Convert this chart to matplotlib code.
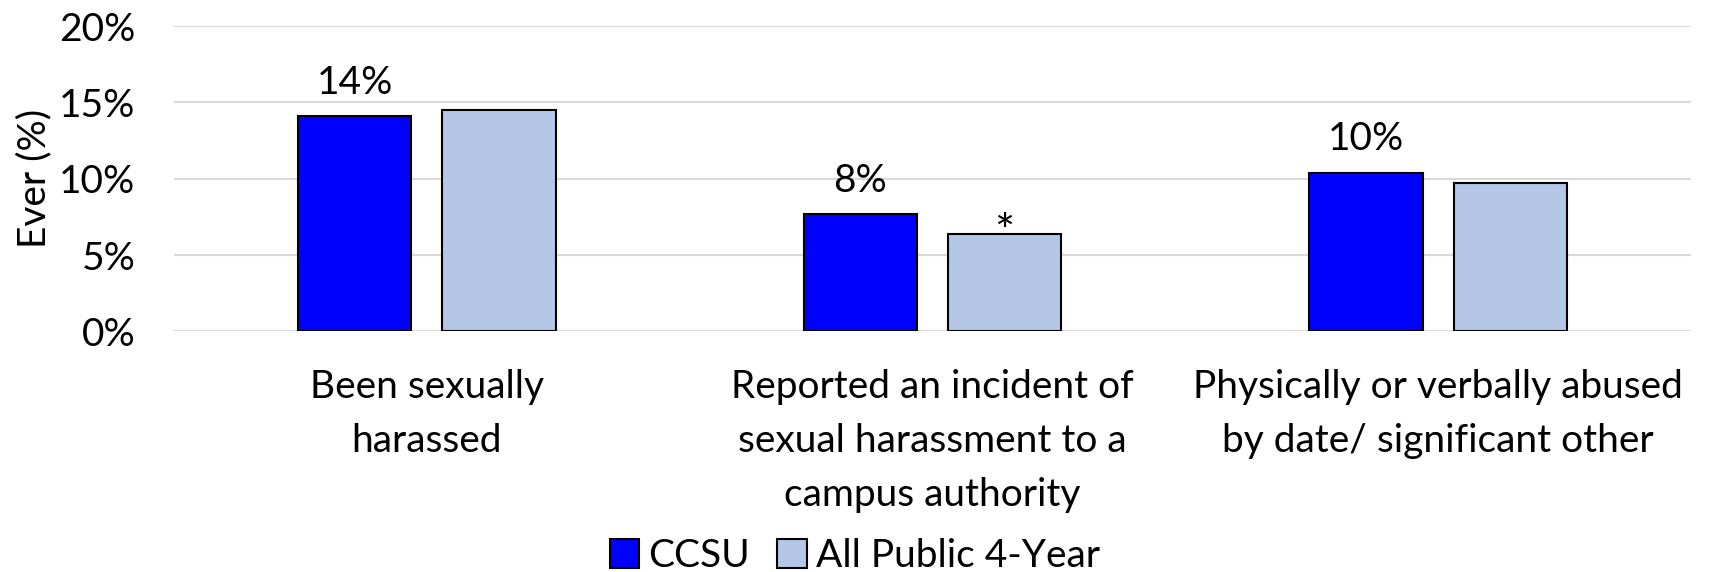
import matplotlib.pyplot as plt
import numpy as np

categories = ['Been sexually\nharassed',
              'Reported an incident of\nsexual harassment to a\ncampus authority',
              'Physically or verbally abused\nby date/ significant other']
ccsu = [14.1, 7.7, 10.4]
all_public = [14.5, 6.4, 9.7]
ccsu_labels = ['14%', '8%', '10%']
all_labels = ['', '*', '']
yticks = [0, 5, 10, 15, 20]

plt.rcParams['font.family'] = ['Lato', 'DejaVu Sans']
fs = 28

fig = plt.figure(figsize=(17.1, 5.72), dpi=100)
ax = fig.add_axes([0.1018, 0.4205, 0.8871, 0.534])

x = np.arange(len(categories))
w = 0.224
off = 0.1426
b1 = ax.bar(x - off, ccsu, w, color='#0000FF', edgecolor='black', linewidth=1.5,
            label='CCSU', zorder=3)
b2 = ax.bar(x + off, all_public, w, color='#B4C7E7', edgecolor='black', linewidth=1.5,
            label='All Public 4-Year', zorder=3)

# value labels
for rect, lab in zip(b1, ccsu_labels):
    ax.annotate(lab, (rect.get_x() + rect.get_width() / 2, rect.get_height()),
                xytext=(0, 24), textcoords='offset points', ha='center', va='center',
                fontsize=fs)
for rect, lab in zip(b2, all_labels):
    ax.annotate(lab, (rect.get_x() + rect.get_width() / 2, rect.get_height()),
                xytext=(0, 0), textcoords='offset points', ha='center', va='center',
                fontsize=34)

ax.set_xlim(-0.5, 2.5)
ax.set_ylim(0, 20)
ax.set_yticks(yticks)
ax.set_yticklabels([f'{t}%' for t in yticks], fontsize=fs)
ax.set_xticks(x)
ax.set_xticklabels(categories, fontsize=fs, linespacing=1.62)
ax.tick_params(axis='y', length=0, pad=28)
ax.tick_params(axis='x', length=0, pad=27)
ax.grid(axis='y', color='#d9d9d9', linewidth=1.5, zorder=0)
for s in ax.spines.values():
    s.set_visible(False)
ax.set_ylabel('Ever (%)', fontsize=fs, labelpad=5)

fig.legend(loc='lower center', bbox_to_anchor=(0.5, -0.065), ncol=2, frameon=False,
           fontsize=fs, handlelength=0.75, handleheight=0.75, handletextpad=0.25,
           columnspacing=0.7)

fig.savefig('out.png', dpi=100)
